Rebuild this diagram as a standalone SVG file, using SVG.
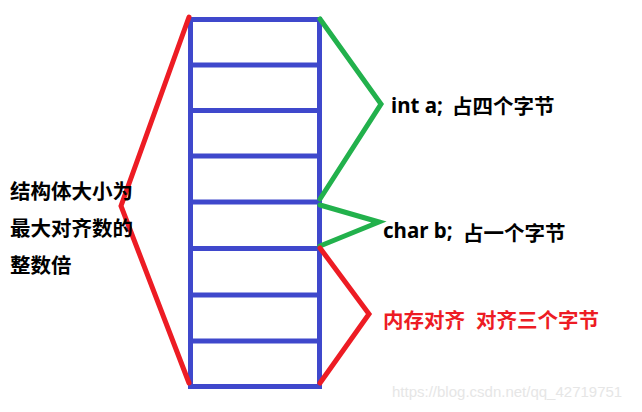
<svg xmlns="http://www.w3.org/2000/svg" width="642" height="412" viewBox="0 0 642 412">
<style>
.grid{stroke:#3f48cc;stroke-width:5;fill:none}
.br{fill:none;stroke-width:5;stroke-linejoin:miter;stroke-linecap:round}
.red{stroke:#ed1c24}
.green{stroke:#22b14c}
.t{font-family:"Noto Sans","Noto Sans CJK SC",sans-serif;font-weight:bold;font-size:20.5px;fill:#000}
.rt{fill:#ed1c24}
.wm{font-family:"Liberation Sans",Arial,sans-serif;font-size:15px;fill:#e6e6e6}
</style>
<rect width="642" height="412" fill="#fff"/>
<g id="struct">
<rect class="grid" x="190.5" y="19.5" width="129" height="367"/>
<line class="grid" x1="190.5" y1="65" x2="319.5" y2="65"/>
<line class="grid" x1="190.5" y1="110.5" x2="319.5" y2="110.5"/>
<line class="grid" x1="190.5" y1="156" x2="319.5" y2="156"/>
<line class="grid" x1="190.5" y1="202" x2="319.5" y2="202"/>
<line class="grid" x1="190.5" y1="248.5" x2="319.5" y2="248.5"/>
<line class="grid" x1="190.5" y1="295" x2="319.5" y2="295"/>
<line class="grid" x1="190.5" y1="341" x2="319.5" y2="341"/>
</g>
<g id="connectors">
<polyline class="br red" points="189,17 121,206 189,383"/>
<polyline class="br green" points="320,19 381,104 320,199"/>
<polyline class="br green" points="320,205 379,222 320,246"/>
<polyline class="br red" points="320,248 369,314 320,383"/>
</g>
<g id="label-size">
<text class="t" x="10" y="199">结构体大小为</text>
<text class="t" x="10" y="236">最大对齐数的</text>
<text class="t" x="10" y="273">整数倍</text>
</g>
<g id="label-int">
<text class="t" x="391" y="113">int a;</text>
<text class="t" x="452" y="114">占四个字节</text>
</g>
<g id="label-char">
<text class="t" x="383" y="238">char b;</text>
<text class="t" x="463" y="241">占一个字节</text>
</g>
<g id="label-align">
<text class="t rt" x="383" y="328">内存对齐</text>
<text class="t rt" x="476" y="328">对齐三个字节</text>
</g>
<text class="wm" x="392" y="397">https://blog.csdn.net/qq_42719751</text>
</svg>
